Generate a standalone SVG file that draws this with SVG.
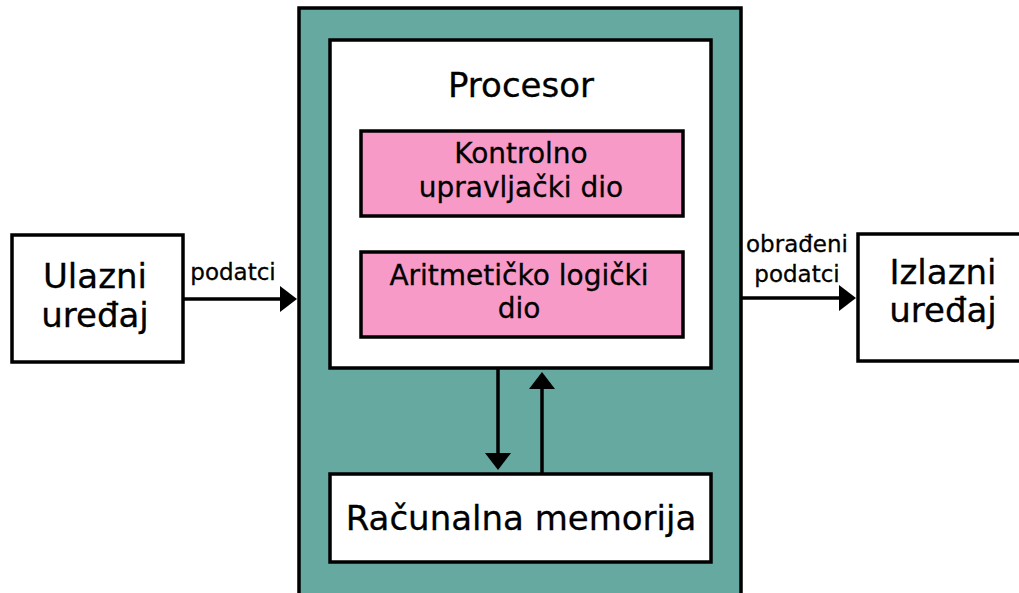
<svg xmlns="http://www.w3.org/2000/svg" width="1019" height="593" viewBox="0 0 1019 593">
<style>
.box{fill:#fff;stroke:#000;stroke-width:3.5}
.pink{fill:#f89ac8;stroke:#000;stroke-width:3.5}
.teal{fill:#65a9a0;stroke:#000;stroke-width:3.5}
text{font-family:"DejaVu Sans",sans-serif;fill:#000;text-anchor:middle;stroke:#000;stroke-width:0.3}
.big{font-size:34px}
.mid{font-size:28px}
.sm{font-size:23px}
.conn{stroke:#000;stroke-width:3.5;fill:none}
</style>
<defs>
<marker id="ah" markerWidth="17" markerHeight="26" refX="8" refY="13" orient="auto" markerUnits="userSpaceOnUse">
<path d="M0,0 L17,13 L0,26 Z" fill="#000"/>
</marker>
</defs>
<rect width="1019" height="593" fill="#fff"/>
<g id="system">
<rect class="teal" x="299" y="8" width="442" height="600"/>
</g>
<g id="ulazni">
<rect class="box" x="12" y="235" width="171" height="127"/>
<text class="big" x="95" y="288">Ulazni</text>
<text class="big" x="95" y="327">uređaj</text>
</g>
<g id="izlazni">
<rect class="box" x="858" y="234" width="180" height="127"/>
<text class="big" x="943" y="284">Izlazni</text>
<text class="big" x="943" y="322">uređaj</text>
</g>
<g id="procesor">
<rect class="box" x="330" y="40" width="381" height="328"/>
<text class="big" x="521" y="97">Procesor</text>
</g>
<g id="kontrolno">
<rect class="pink" x="361" y="131" width="322" height="85"/>
<text class="mid" x="521" y="163">Kontrolno</text>
<text class="mid" x="521" y="197">upravljački dio</text>
</g>
<g id="alu">
<rect class="pink" x="361" y="252" width="322" height="85"/>
<text class="mid" x="519" y="285">Aritmetičko logički</text>
<text class="mid" x="519" y="318">dio</text>
</g>
<g id="memorija">
<rect class="box" x="330" y="474" width="381" height="88"/>
<text class="big" x="521" y="530">Računalna memorija</text>
</g>
<g id="connectors">
<line class="conn" x1="183" y1="299" x2="288" y2="299" marker-end="url(#ah)"/>
<text class="sm" x="233" y="280">podatci</text>
<line class="conn" x1="741" y1="298" x2="847" y2="298" marker-end="url(#ah)"/>
<text class="sm" x="797" y="252">obrađeni</text>
<text class="sm" x="797" y="282">podatci</text>
<line class="conn" x1="498" y1="368" x2="498" y2="461" marker-end="url(#ah)"/>
<line class="conn" x1="542" y1="474" x2="542" y2="381" marker-end="url(#ah)"/>
</g>
</svg>
